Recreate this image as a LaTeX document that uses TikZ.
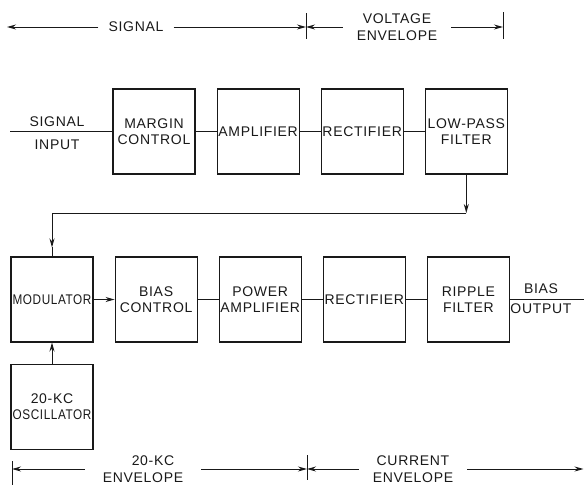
\documentclass[tikz,border=0pt]{standalone}
\usepackage{fontspec}
\setmainfont[LetterSpace=5]{Liberation Sans}
\usepackage{graphicx}
\usepackage{tikz}
\usetikzlibrary{arrows.meta, positioning, calc}
\definecolor{inkblack}{RGB}{25,25,25}
\newcommand{\squeezed}[1]{\scalebox{0.84}[1]{#1}}
\tikzset{
  block/.style={rectangle, draw=inkblack, text=inkblack,
    minimum width=82pt, minimum height=85pt, inner sep=1pt,
    align=center, font=\fontsize{14}{16}\selectfont, line width=1.1pt},
  dimlabel/.style={align=center, text=inkblack, inner ysep=0pt, inner xsep=14pt,
    font=\fontsize{14}{17}\selectfont},
  sidelabel/.style={align=center, text=inkblack, font=\fontsize{14}{16}\selectfont},
  arrow/.style={-{Stealth[length=9pt,width=5pt]}, line width=1pt, color=inkblack},
  line/.style={line width=1pt, color=inkblack}
}

\begin{document}
\begin{tikzpicture}[x=1pt, y=-1pt, node distance=21pt]
  \useasboundingbox (0,0) rectangle (584,485);

  % Dimension line across the top
  \node[dimlabel, inner xsep=10pt] (sigdim) at (136,27) {SIGNAL};
  \node[dimlabel] (voltdim) at (397,27) {VOLTAGE\\ENVELOPE};
  \coordinate (topleft) at (7,27);
  \coordinate (topmid) at (306,27);
  \coordinate (topright) at (503,27);
  \draw[line] ($(topmid)+(0,-14)$) -- ($(topmid)+(0,12)$);
  \draw[line] ($(topright)+(0,-15)$) -- ($(topright)+(0,12)$);
  \draw[arrow] (sigdim.west) -- (topleft);
  \draw[arrow] (sigdim.east) -- (topmid);
  \draw[arrow] (voltdim.west) -- (topmid);
  \draw[arrow] (voltdim.east) -- (topright);

  % Upper chain
  \node[block] (margin) at (154,131.5) {MARGIN\\CONTROL};
  \node[block, right=of margin] (amp1) {AMPLIFIER};
  \node[block, right=of amp1] (rect1) {RECTIFIER};
  \node[block, right=of rect1] (lowpass) {LOW-PASS\\FILTER};

  % Signal input
  \coordinate (sigin) at (10,131.5);
  \node[sidelabel] (inlabel) at (57,133) {SIGNAL\\[7pt]INPUT};
  \draw[line] (sigin) -- (margin);
  \draw[line] (margin) -- (amp1);
  \draw[line] (amp1) -- (rect1);
  \draw[line] (rect1) -- (lowpass);

  % Lower chain
  \node[block] (mod) at (52,299.5) {\squeezed{MODULATOR}};
  \node[block, right=of mod] (bias) {BIAS\\CONTROL};
  \node[block, right=of bias] (power) {POWER\\AMPLIFIER};
  \node[block, right=of power] (rect2) {RECTIFIER};
  \node[block, right=of rect2] (ripple) {RIPPLE\\FILTER};
  \node[block, below=of mod] (osc) {20-KC\\\squeezed{OSCILLATOR}};

  % Feed from the low-pass filter to the modulator
  \coordinate (turnlevel) at (0,213);
  \coordinate (turn) at (lowpass.south |- turnlevel);
  \coordinate (modin) at ($(mod.north)+(0,-9)$);
  \draw[arrow] (lowpass.south) -- (turn);
  \draw[arrow] (turn) -| (modin);
  \draw[line] (modin) -- (mod.north);

  \draw[arrow] (mod) -- (bias);
  \draw[line] (bias) -- (power);
  \draw[line] (power) -- (rect2);
  \draw[line] (rect2) -- (ripple);
  \draw[arrow] (osc) -- (mod);

  % Bias output
  \coordinate (biasout) at (584,299.5);
  \node[sidelabel] (outlabel) at (541,299) {BIAS\\[4pt]OUTPUT};
  \draw[line] (ripple) -- (biasout);

  % Dimension line across the bottom
  \node[dimlabel, inner xsep=18pt] (kcdim) at (143,469) {\hspace*{20pt}20-KC\\ENVELOPE};
  \node[dimlabel] (curdim) at (413,469) {CURRENT\\ENVELOPE};
  \coordinate (botleft) at (12,469);
  \coordinate (botmid) at (307,469);
  \coordinate (botright) at (583.5,469);
  \draw[line] ($(botleft)+(0,-8)$) -- ($(botleft)+(0,16)$);
  \draw[line] ($(botmid)+(0,-14)$) -- ($(botmid)+(0,11)$);
  \draw[arrow] (kcdim.west) -- (botleft);
  \draw[arrow] (kcdim.east) -- (botmid);
  \draw[arrow] (curdim.west) -- (botmid);
  \draw[arrow] (curdim.east) -- (botright);
\end{tikzpicture}
\end{document}
